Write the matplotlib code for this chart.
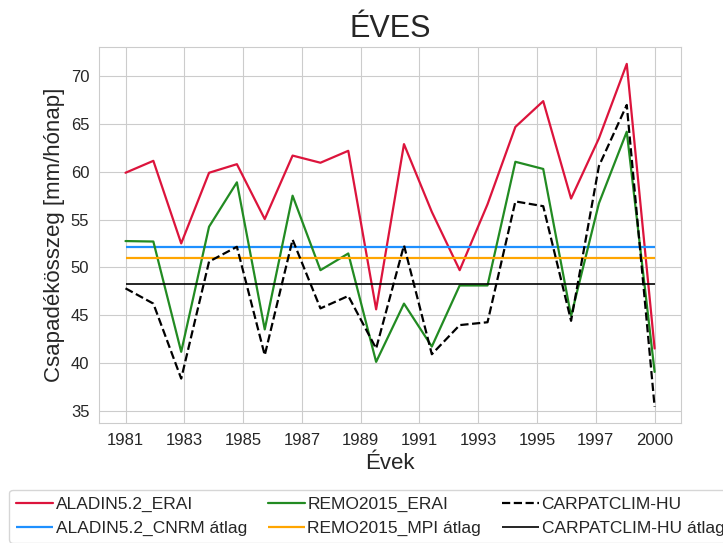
import numpy as np
import matplotlib
matplotlib.use("Agg")
import matplotlib.pyplot as plt
import seaborn as sns

years = np.arange(1981, 2001)

aladin_erai = [59.9, 61.15, 52.5, 59.9, 60.8, 55.05, 61.7, 60.95, 62.2, 45.6,
               62.9, 55.8, 49.7, 56.6, 64.7, 67.4, 57.2, 63.5, 71.3, 41.5]
remo_erai = [52.75, 52.7, 41.15, 54.25, 58.9, 43.5, 57.5, 49.7, 51.45, 40.1,
             46.2, 41.7, 48.1, 48.1, 61.05, 60.3, 44.9, 56.7, 64.2, 39.05]
carpat = [47.8, 46.2, 38.35, 50.6, 52.15, 40.8, 52.9, 45.7, 47.0, 41.5,
          52.3, 40.9, 43.95, 44.25, 56.9, 56.4, 44.4, 60.6, 67.0, 35.4]

aladin_cnrm_mean = 52.15
remo_mpi_mean = 50.95
carpat_mean = 48.25

labels = ["ALADIN5.2_ERAI", "ALADIN5.2_CNRM átlag", "REMO2015_ERAI",
          "REMO2015_MPI átlag", "CARPATCLIM-HU", "CARPATCLIM-HU átlag"]

sns.set_style("whitegrid")
plt.rcParams['font.family'] = ['Liberation Sans', 'DejaVu Sans']
plt.rcParams['text.color'] = '.15'
plt.rcParams['axes.labelcolor'] = '.15'
plt.rcParams['xtick.color'] = '.15'
plt.rcParams['ytick.color'] = '.15'

fig = plt.figure(figsize=(7.23, 5.43), dpi=100)
ax = fig.add_axes([0.137, 0.221, 0.805, 0.693])

lw = 1.6
ax.plot(years, aladin_erai, color='crimson', lw=lw, label=labels[0])
ax.hlines(aladin_cnrm_mean, years[0], years[-1], color='dodgerblue', lw=lw, label=labels[1])
ax.plot(years, remo_erai, color='forestgreen', lw=lw, label=labels[2])
ax.hlines(remo_mpi_mean, years[0], years[-1], color='orange', lw=lw, label=labels[3])
ax.plot(years, carpat, color='black', lw=lw, ls='--', label=labels[4])
ax.hlines(carpat_mean, years[0], years[-1], color='black', lw=1.2, label=labels[5])

ticks = np.linspace(years[0], years[-1], 10)
ax.set_xticks(ticks)
ax.set_xticklabels([str(int(t)) for t in ticks], fontsize=12)
ax.set_yticks(np.arange(35, 71, 5))
ax.tick_params(axis='y', labelsize=12)
ax.set_xlim(years[0] - 0.95, years[-1] + 0.95)
ax.set_ylim(33.7, 73.1)

ax.set_title("ÉVES", fontsize=22, pad=7)
ax.set_xlabel("Évek", fontsize=16, labelpad=4)
ax.set_ylabel("Csapadékösszeg [mm/hónap]", fontsize=16)

leg = fig.legend(loc='upper left', bbox_to_anchor=(0.0125, 0.0976), ncol=3,
                 fontsize=12.5, frameon=True, handlelength=2.13, handletextpad=0.16,
                 columnspacing=1.19, borderaxespad=0, labelspacing=0.48,
                 fancybox=True, edgecolor='.8')

fig.savefig("out.png", dpi=100)
